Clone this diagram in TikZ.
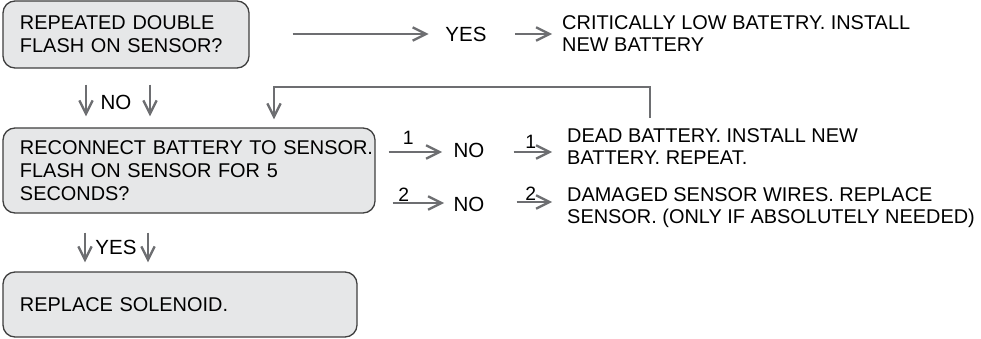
\documentclass[tikz,border=0pt]{standalone}
\usepackage{fontspec}
\setmainfont{Liberation Sans}
\usetikzlibrary{arrows.meta}
\definecolor{boxfill}{HTML}{E6E7E8}
\definecolor{boxline}{HTML}{3F3F3F}
\definecolor{arrgray}{HTML}{6D6E71}
\tikzset{
  box/.style={draw=boxline, fill=boxfill, line width=1.1pt, rounded corners=0.36cm,
    align=left, inner xsep=0.51cm, inner ysep=0pt, font=\fontsize{17}{19.5}\selectfont},
  lbl/.style={inner sep=0pt, font=\fontsize{17.5}{18.7}\selectfont},
  txt/.style={inner sep=0pt, align=left, anchor=north west, font=\fontsize{17}{18.7}\selectfont},
  num/.style={above, inner sep=2pt, font=\fontsize{16.5}{16.5}\selectfont},
  arr/.style={->, draw=arrgray, line width=2pt}
}
\begin{document}
\begin{tikzpicture}[x=0.03cm, y=-0.03cm, >={Straight Barb[length=0.4cm, width=0.4cm]}]
\useasboundingbox (0,0) rectangle (981,339);
% boxes
\node[box, text width=6.36cm, minimum height=2.01cm] (flash) at (126,34.5) {REPEATED DOUBLE\\FLASH ON SENSOR?};
\node[box, text width=10.14cm, minimum height=2.55cm] (reconnect) at (189,170.5) {\mbox{RECONNECT BATTERY TO SENSOR.}\\FLASH ON SENSOR FOR 5\\SECONDS?};
\node[box, text width=9.6cm, minimum height=1.95cm] (solenoid) at (180,304.5) {REPLACE SOLENOID.};
% answers
\node[lbl] (yes) at (466,34) {YES};
\node[lbl] (no) at (116,102) {NO};
\node[lbl] (noa) at (469,150) {NO};
\node[lbl] (nob) at (469,204) {NO};
\node[lbl] (yesb) at (116,247) {YES};
% results
\node[txt] (lowbat) at (562,15) {CRITICALLY LOW BATETRY. INSTALL\\NEW BATTERY};
\node[txt] (dead) at (567,128) {DEAD BATTERY. INSTALL NEW\\BATTERY. REPEAT.};
\node[txt] (damaged) at (567,187) {DAMAGED SENSOR WIRES. REPLACE\\SENSOR. (ONLY IF ABSOLUTELY NEEDED)};
\coordinate (fb) at (650,118);
% arrows
\draw[arr, shorten <=1.29cm, shorten >=0.5cm] (flash.east |- yes) -- (yes.west);
\draw[arr, shorten <=0.84cm, shorten >=0.3cm] (yes.east) -- (yes.east -| lowbat.west);
\foreach \xx in {86,150}
  \draw[arr, shorten <=0.48cm, shorten >=0.33cm] (\xx,0 |- flash.south) -- (\xx,0 |- reconnect.north);
\foreach \xx in {85,148}
  \draw[arr, shorten <=0.57cm, shorten >=0.27cm] (\xx,0 |- reconnect.south) -- (\xx,0 |- solenoid.north);
\draw[arr, shorten >=0.24cm] (fb) |- (274,87) -- (274,0 |- reconnect.north);
\draw[arr, shorten <=0.39cm, shorten >=0.81cm] (reconnect.east |- 0,152) -- node[num, pos=0.35, yshift=3pt] {1} (noa.center |- 0,152);
\draw[arr, shorten <=0.51cm, shorten >=0.75cm] (reconnect.east |- 0,203) -- node[num, pos=0.3, inner sep=0.5pt] {2} (nob.center |- 0,203);
\draw[arr, shorten <=0.87cm, shorten >=0.45cm] (noa.east |- 0,152) -- node[num, pos=0.56] {1} (dead.west |- 0,152);
\draw[arr, shorten <=0.96cm, shorten >=0.45cm] (nob.east |- 0,202) -- node[num, pos=0.56, inner sep=0.5pt] {2} (damaged.west |- 0,202);
\end{tikzpicture}
\end{document}
